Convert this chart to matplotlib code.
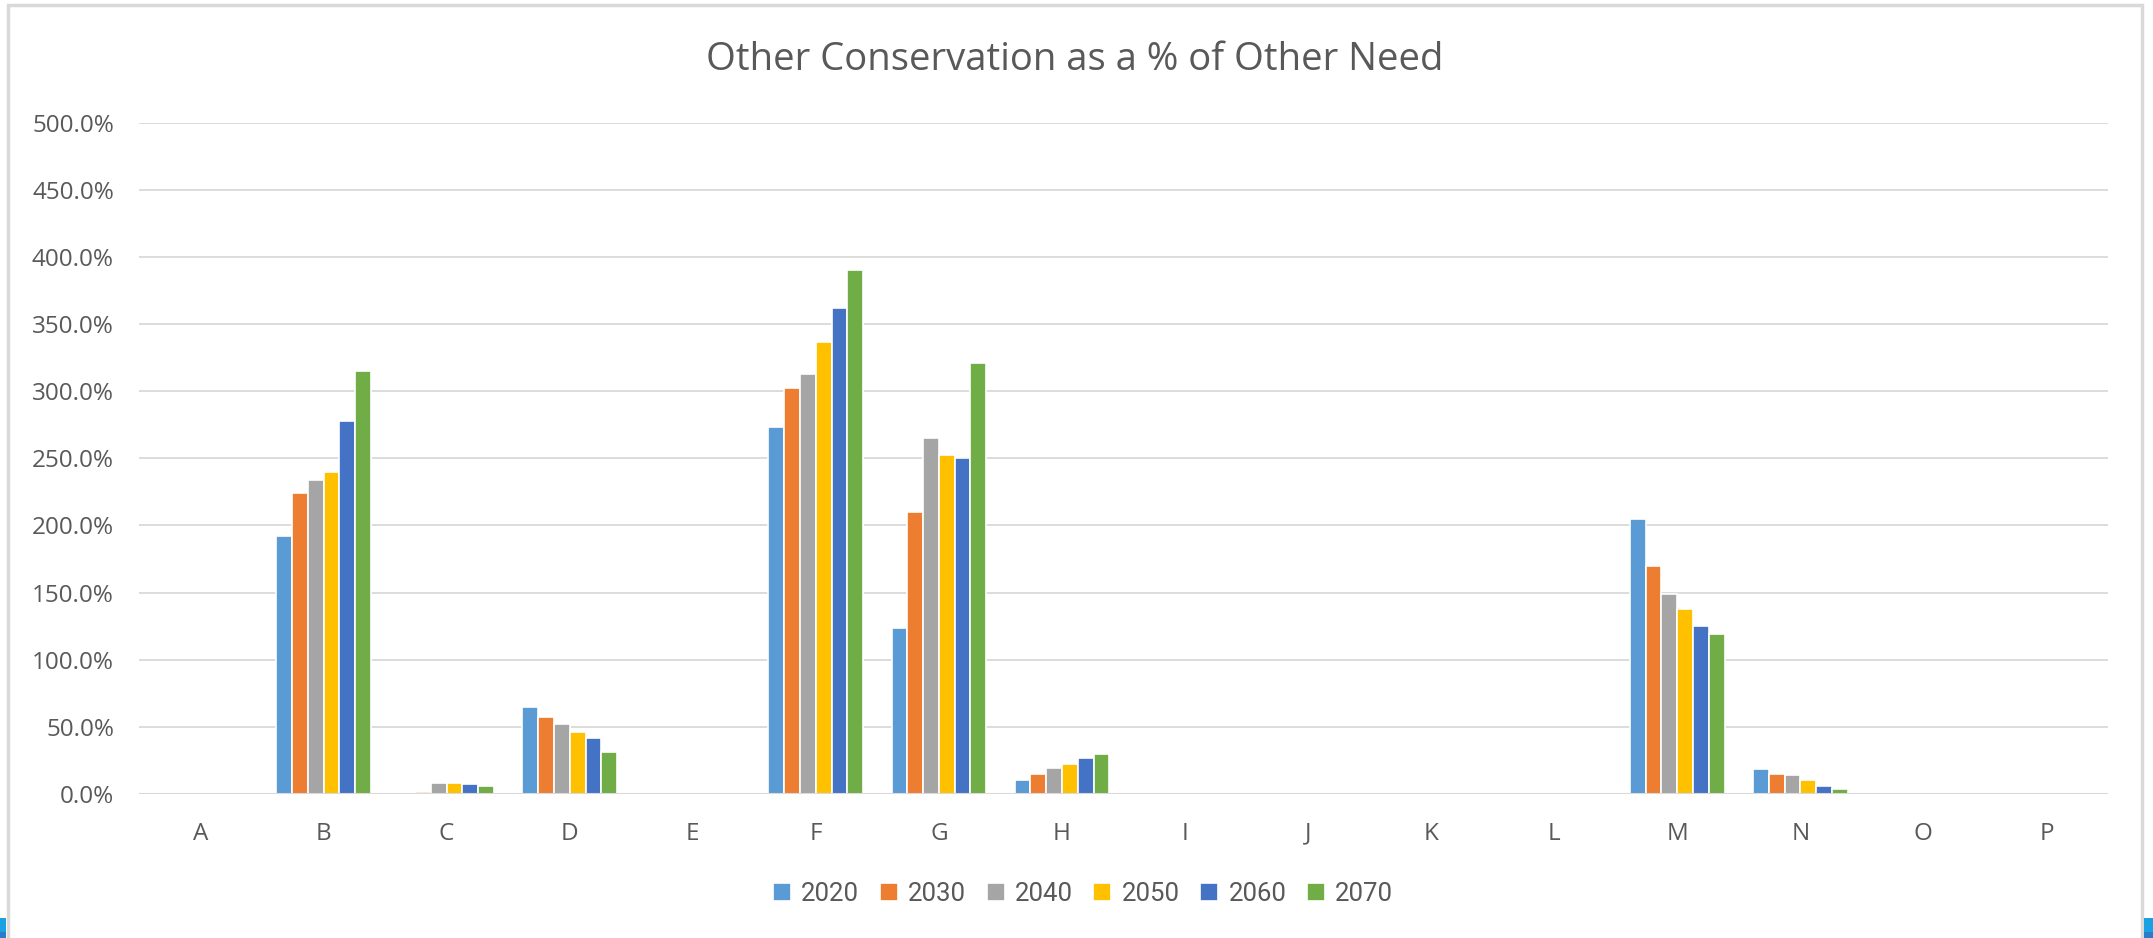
import matplotlib
matplotlib.use('Agg')
import matplotlib.pyplot as plt
import numpy as np
from matplotlib.ticker import PercentFormatter
from matplotlib.patches import Rectangle

# values in percent
categories = ['A', 'B', 'C', 'D', 'E', 'F', 'G', 'H', 'I', 'J', 'K', 'L', 'M', 'N', 'O', 'P']
years = ['2020', '2030', '2040', '2050', '2060', '2070']
y2020 = [0, 192, 0, 64.5, 0, 273, 123.5, 10.5, 0, 0, 0, 0, 205, 18.5, 0, 0]
y2030 = [0, 224, 1.3, 57.5, 0, 302.5, 210, 15, 0, 0, 0, 0, 169.5, 15, 0, 0]
y2040 = [0, 234, 8.3, 51.8, 0, 312.8, 265, 19.5, 0, 0, 0, 0, 149.3, 13.8, 0, 0]
y2050 = [0, 240, 8.3, 46, 0, 336.8, 252.5, 22, 0, 0, 0, 0, 137.8, 10.5, 0, 0]
y2060 = [0, 277.5, 7.3, 41.5, 0, 361.8, 250, 26.5, 0, 0, 0, 0, 125, 6, 0, 0]
y2070 = [0, 315, 6, 31, 0, 390.2, 320.8, 30, 0, 0, 0, 0, 119.3, 3.5, 0, 0]
series = [y2020, y2030, y2040, y2050, y2060, y2070]
colors = ['#5B9BD5', '#ED7D31', '#A5A5A5', '#FFC000', '#4472C4', '#70AD47']

TEXT = '#595959'
GRID = '#D9D9D9'
W, H = 2153, 938

fig = plt.figure(figsize=(W / 100, H / 100), dpi=100)
ax = fig.add_axes([139 / W, 1 - 794 / H, (2108 - 139) / W, (794 - 122.7) / H])

x = np.arange(len(categories))
n = len(series)
group = 0.77
w = group / n
for i, (vals, c, yr) in enumerate(zip(series, colors, years)):
    offs = -group / 2 + w * (i + 0.5)
    ax.bar(x + offs, vals, width=w, color=c, edgecolor='white', linewidth=1.2,
           label=yr, zorder=2)

ax.set_xlim(-0.5, len(categories) - 0.5)
ax.set_ylim(0, 500)
ax.set_yticks(np.arange(0, 501, 50))
ax.yaxis.set_major_formatter(PercentFormatter(100, decimals=1))
ax.set_xticks(x)
ax.set_xticklabels(categories)
ax.grid(axis='y', color=GRID, linewidth=1.3, zorder=0)
ax.axhline(0, color=GRID, linewidth=1.5, zorder=3)
for s in ax.spines.values():
    s.set_visible(False)
ax.tick_params(axis='both', length=0, colors=TEXT, labelsize=17.5)
ax.tick_params(axis='x', pad=20)
ax.tick_params(axis='y', pad=18)
for lab in ax.get_xticklabels() + ax.get_yticklabels():
    lab.set_family(['Open Sans', 'DejaVu Sans'])

fig.text(1075 / W, 1 - 60 / H, 'Other Conservation as a % of Other Need',
         ha='center', va='center', fontsize=27.5, color=TEXT,
         family=['Open Sans', 'DejaVu Sans'])

handles, labels = ax.get_legend_handles_labels()
leg = fig.legend(handles, labels, loc='center', bbox_to_anchor=(1083 / W, 1 - 894 / H),
                 ncol=6, frameon=False, handlelength=0.7, handleheight=0.7,
                 handletextpad=0.4, columnspacing=0.8,
                 prop={'family': ['Roboto', 'DejaVu Sans'], 'size': 18.5})
for t in leg.get_texts():
    t.set_color(TEXT)

# chart frame
fig.patches.append(Rectangle((7.5 / W, -0.01), (2142 - 7.5) / W, 1 - 5 / H + 0.01,
                             transform=fig.transFigure, fill=False, edgecolor=GRID,
                             linewidth=2.5))
# bits of the screen behind the chart, at the lower corners
for x0, x1 in [(0, 6), (2144, W)]:
    fig.patches.append(Rectangle((x0 / W, 6 / H), (x1 - x0) / W, 14 / H,
                                 transform=fig.transFigure, color='#1BA1E2', lw=0))
    fig.patches.append(Rectangle((x0 / W, 0), (x1 - x0) / W, 6 / H,
                                 transform=fig.transFigure, color='#2A7BC8', lw=0))

fig.savefig('out.png', dpi=100)
plt.close(fig)
